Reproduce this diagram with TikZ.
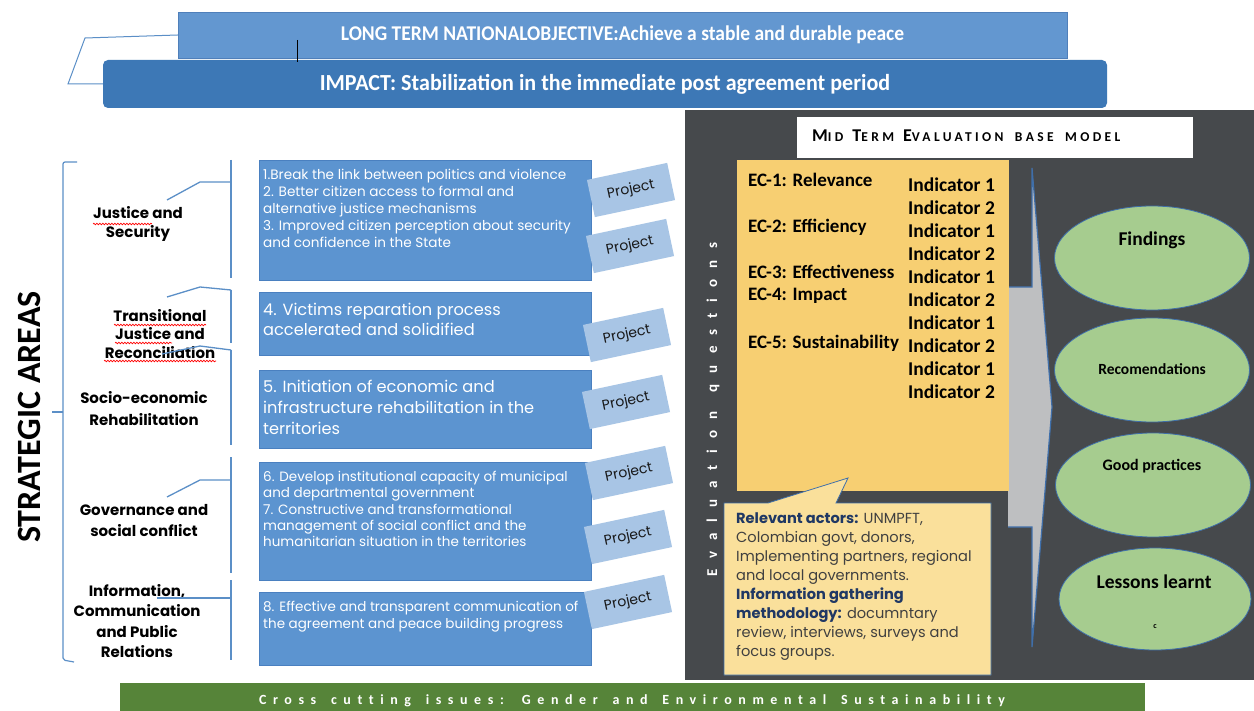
\documentclass[tikz,border=0pt]{standalone}
\usepackage{fontspec}
\setmainfont{Carlito}
\newfontfamily\gothic{Poppins}
\newfontfamily\calwide[LetterSpace=47,Ligatures=NoCommon]{Carlito}
\newfontfamily\calwider[LetterSpace=74,Ligatures=NoCommon]{Carlito}
\newfontfamily\caltitle[LetterSpace=25,Ligatures=NoCommon]{Carlito}
\newcommand{\wgap}{\hspace{5pt}}
\usetikzlibrary{shapes.geometric,decorations.pathmorphing}
\definecolor{topblue}{HTML}{6397D0}
\definecolor{topborder}{HTML}{4F7FBA}
\definecolor{impactblue}{HTML}{3D78B6}
\definecolor{panelgrey}{HTML}{46494C}
\definecolor{ecyellow}{HTML}{F7CF72}
\definecolor{calloutyellow}{HTML}{FAE09B}
\definecolor{arrowgrey}{HTML}{BEBFC1}
\definecolor{ellgreen}{HTML}{A6CC8F}
\definecolor{edgeblue}{HTML}{3F6FAA}
\definecolor{barGreen}{HTML}{568439}
\definecolor{boxblue}{HTML}{5C94D0}
\definecolor{boxedge}{HTML}{4A80C0}
\definecolor{tagblue}{HTML}{A8C5E5}
\definecolor{linkblue}{HTML}{5B8FC7}
\definecolor{navy}{HTML}{203864}
\definecolor{darktext}{HTML}{404040}
\begin{document}
\begin{tikzpicture}[x=1pt,y=-1pt,
  goalbox/.style={draw=boxedge,fill=boxblue,line width=0.8pt},
  goaltext/.style={anchor=north west,inner sep=0pt,align=left,text=white},
  areatext/.style={align=center,inner sep=0pt,font=\gothic\bfseries\fontsize{15}{18.5}\selectfont},
  tag/.style={fill=tagblue,rotate=12,minimum width=82,minimum height=38,inner sep=0pt,
              font=\gothic\fontsize{14}{14}\selectfont,text=black!90},
  link/.style={draw=linkblue,line width=1.3pt},
  ectext/.style={anchor=west,inner sep=0pt,font=\bfseries\fontsize{19}{20}\selectfont},
  outcome/.style={ellipse,fill=ellgreen,draw=edgeblue,line width=0.8pt,minimum width=195,minimum height=104},
  outtext/.style={inner sep=0pt,font=\bfseries},
  squig/.style={draw=red,line width=0.7pt,decorate,decoration={snake,amplitude=0.8pt,segment length=3pt}}
]
\useasboundingbox (0,0) rectangle (1254,711);
\fill[white] (0,0) rectangle (1254,711);

% ---------- dark evaluation panel ----------
\fill[panelgrey] (685,110) rectangle (1254,680);

% ---------- top banners ----------
\node[draw=topborder,fill=topblue,minimum width=889,minimum height=46,inner sep=0pt,
      text=white,font=\bfseries\fontsize{21}{22}\selectfont] (top) at (622.5,35)
  {\scalebox{0.93}[1]{LONG TERM NATIONALOBJECTIVE:Achieve a stable and durable peace}};
\node[fill=impactblue,rounded corners=5pt,minimum width=1004,minimum height=48,inner sep=0pt,
      text=white,font=\bfseries\fontsize{23}{24}\selectfont] (impact) at (605,84)
  {\scalebox{0.96}[1]{IMPACT: Stabilization in the immediate post agreement period}};
\coordinate (k1) at (85,38);
\coordinate (k2) at (68,84);
\draw[draw=linkblue,line width=1pt] (top.west) -- (k1) -- (k2) -- (impact.west);
\coordinate (v1) at (297,40);
\coordinate (v2) at (297,62);
\draw[black,line width=1pt] (v1) -- (v2);

% ---------- strategic areas ----------
\node[rotate=90,inner sep=0pt,font=\bfseries\fontsize{34}{34}\selectfont] (sa) at (29,417) {STRATEGIC AREAS};
\coordinate (b1) at (77,162); \coordinate (b2) at (63,162); \coordinate (b3) at (63,660);
\coordinate (b4) at (74,662); \coordinate (bm) at (63,412); \coordinate (bt) at (52,412);
\draw[draw=linkblue,line width=1.2pt,rounded corners=2pt] (b1) -- (b2) -- (b3) -- (b4);
\draw[draw=linkblue,line width=1.2pt] (bm) -- (bt);

\node[areatext] (a1) at (138,224) {Justice and\\Security};
\node[areatext] (a2) at (160,334) {Transitional\\Justice and\\Reconciliation};
\node[areatext,font=\gothic\bfseries\fontsize{15}{22}\selectfont] (a3) at (144,409) {Socio-economic\\Rehabilitation};
\node[areatext,font=\gothic\bfseries\fontsize{15}{21}\selectfont] (a4) at (144,521) {Governance and\\social conflict};
\node[areatext,font=\gothic\bfseries\fontsize{15}{20.5}\selectfont] (a5) at (137,621) {Information,\\Communication\\and Public\\Relations};

% spell-check squiggles
\coordinate (q1a) at (93,224); \coordinate (q1b) at (152,224);
\coordinate (q2a) at (114,325); \coordinate (q2b) at (206,325);
\coordinate (q3a) at (115,343); \coordinate (q3b) at (172,343);
\coordinate (q4a) at (104,361); \coordinate (q4b) at (216,361);
\draw[squig] (q1a) -- (q1b);
\draw[squig] (q2a) -- (q2b);
\draw[squig] (q3a) -- (q3b);
\draw[squig] (q4a) -- (q4b);

% vertical connectors and branches
\coordinate (s1t) at (231,160); \coordinate (s1b) at (231,278);
\coordinate (s1j) at (231,182); \coordinate (s1k) at (200,182); \coordinate (s1e) at (167,200);
\draw[link] (s1t) -- (s1b);
\draw[link] (s1j) -- (s1k) -- (s1e);
\coordinate (s2t) at (231,290); \coordinate (s2b) at (231,343);
\coordinate (s2k) at (200,287); \coordinate (s2e) at (167,297);
\draw[link] (s2t) -- (s2b);
\draw[link] (s2t) -- (s2k) -- (s2e);
\coordinate (s3t) at (231,350); \coordinate (s3b) at (231,445);
\coordinate (s3k) at (200,346); \coordinate (s3e) at (162,354);
\draw[link] (s3t) -- (s3b);
\draw[link] (s3t) -- (s3k) -- (s3e);
\coordinate (s4t) at (231,457); \coordinate (s4b) at (231,573);
\coordinate (s4j) at (231,480); \coordinate (s4k) at (200,480); \coordinate (s4e) at (167,497);
\draw[link] (s4t) -- (s4b);
\draw[link] (s4j) -- (s4k) -- (s4e);
\coordinate (s5t) at (231,580); \coordinate (s5b) at (231,660);
\coordinate (s5j) at (231,598); \coordinate (s5e) at (157,598);
\draw[link] (s5t) -- (s5b);
\draw[link] (s5j) -- (s5e);

% ---------- goal boxes ----------
\draw[goalbox] (259,160) rectangle (591,280);
\node[goaltext,font=\gothic\fontsize{13.6}{17}\selectfont] (g1) at (263,169)
 {1.Break the link between politics and violence\\2. Better citizen access to formal and\\alternative justice mechanisms\\3. Improved citizen perception about security\\and confidence in the State};
\draw[goalbox] (259,292) rectangle (591,355);
\node[goaltext,font=\gothic\fontsize{16.2}{20}\selectfont] (g2) at (263,303)
 {4. Victims reparation process\\accelerated and solidified};
\draw[goalbox] (259,370) rectangle (591,448);
\node[goaltext,font=\gothic\fontsize{16.2}{21}\selectfont] (g3) at (263,380)
 {5. Initiation of economic and\\infrastructure rehabilitation in the\\territories};
\draw[goalbox] (259,462) rectangle (591,580);
\node[goaltext,font=\gothic\fontsize{13.5}{16.3}\selectfont] (g4) at (263,471)
 {6. Develop institutional capacity of municipal\\and departmental government\\7. Constructive and transformational\\management of social conflict and the\\humanitarian situation in the territories};
\draw[goalbox] (259,592) rectangle (591,665);
\node[goaltext,font=\gothic\fontsize{13.5}{17}\selectfont] (g5) at (263,601)
 {8. Effective and transparent communication of\\the agreement and peace building progress};

% ---------- project tags ----------
\node[tag] (p1) at (631,190) {Project};
\node[tag] (p2) at (630,246) {Project};
\node[tag] (p3) at (627,335) {Project};
\node[tag] (p4) at (626,402) {Project};
\node[tag] (p5) at (629,473) {Project};
\node[tag] (p6) at (628,537) {Project};
\node[tag] (p7) at (628,602) {Project};

% ---------- evaluation panel content ----------
\node[fill=white,minimum width=396,minimum height=41,inner sep=0pt] (title) at (995,137.5) {};
\node[anchor=west,inner sep=0pt,font=\caltitle\bfseries] (titletext) at (812,136)
 {{\fontsize{18}{18}\selectfont M}{\fontsize{13.5}{14}\selectfont ID}\hspace{9pt}{\fontsize{18}{18}\selectfont T}{\fontsize{13.5}{14}\selectfont ERM}\hspace{9pt}{\fontsize{18}{18}\selectfont E}{\fontsize{13.5}{14}\selectfont VALUATION\wgap{} BASE\wgap{} MODEL}};

\node[rotate=90,inner sep=0pt,text=white,font=\calwider\bfseries\fontsize{15}{15}\selectfont] (evq) at (713,410) {Evaluation\wgap{} questions};

% grey arrow behind the criteria box
\coordinate (r1) at (1008,287); \coordinate (r2) at (1032,287); \coordinate (r3) at (1032,168);
\coordinate (r4) at (1052,407); \coordinate (r5) at (1032,647); \coordinate (r6) at (1032,527);
\coordinate (r7) at (1008,527);
\fill[arrowgrey] (r1) -- (r2) -- (r3) -- (r4) -- (r5) -- (r6) -- (r7) -- cycle;
\draw[edgeblue,line width=1.2pt] (r1) -- (r2) -- (r3) -- (r4) -- (r5) -- (r6) -- (r7);

\fill[ecyellow] (737,160) rectangle (1009,491);
\node[ectext] (ec1) at (748,180) {EC-1: Relevance};
\node[ectext] (ec2) at (748,227) {EC-2: Efficiency};
\node[ectext] (ec3) at (748,272) {EC-3: Effectiveness};
\node[ectext] (ec4) at (748,296) {EC-4: Impact};
\node[ectext] (ec5) at (748,343) {EC-5: Sustainability};
\node[anchor=north west,inner sep=0pt,align=left,font=\bfseries\fontsize{19.5}{23}\selectfont] (ind) at (908,178)
 {Indicator 1\\Indicator 2\\Indicator 1\\Indicator 2\\Indicator 1\\Indicator 2\\Indicator 1\\Indicator 2\\Indicator 1\\Indicator 2};

% callout
\coordinate (c1) at (724,503); \coordinate (c2) at (768,503); \coordinate (c3) at (848,478);
\coordinate (c4) at (836,503); \coordinate (c5) at (991,503); \coordinate (c6) at (991,675);
\coordinate (c7) at (724,675);
\filldraw[fill=calloutyellow,draw=edgeblue,line width=0.8pt] (c1) -- (c2) -- (c3) -- (c4) -- (c5) -- (c6) -- (c7) -- cycle;
\node[anchor=north west,inner sep=0pt,align=left,text=darktext,font=\gothic\fontsize{14.6}{19}\selectfont] (actors) at (736,512)
 {\textcolor{navy}{\bfseries Relevant actors:} UNMPFT,\\Colombian govt, donors,\\Implementing partners, regional\\and local governments.\\\textcolor{navy}{\bfseries Information gathering}\\\textcolor{navy}{\bfseries methodology:} documntary\\review, interviews, surveys and\\focus groups.};

% outcome ellipses
\node[outcome] (find) at (1152,258) {};
\node[outcome] (reco) at (1152,370) {};
\node[outcome] (good) at (1153,485) {};
\node[outcome,minimum width=192,minimum height=102] (less) at (1155,599) {};
\node[outtext,font=\bfseries\fontsize{19.5}{20}\selectfont] (findt) at (1152,240) {Findings};
\node[outtext,font=\bfseries\fontsize{15.5}{16}\selectfont] (recot) at (1152,369) {Recomendations};
\node[outtext,font=\bfseries\fontsize{16}{16}\selectfont] (goodt) at (1152,466) {Good practices};
\node[outtext,font=\bfseries\fontsize{19.5}{20}\selectfont] (lesst) at (1154,582) {Lessons learnt};
\node[outtext,font=\bfseries\fontsize{8}{8}\selectfont] (lessc) at (1155,627) {c};

% ---------- cross cutting bar ----------
\node[fill=barGreen,minimum width=1025,minimum height=30,inner sep=0pt] (cross) at (632.5,698) {};
\node[inner sep=0pt,text=white,font=\calwide\bfseries\fontsize{14}{14}\selectfont] (crosst) at (632,701)
 {Cross\wgap{} cutting\wgap{} issues:\wgap{} Gender\wgap{} and\wgap{} Environmental\wgap{} Sustainability};
\end{tikzpicture}
\end{document}
